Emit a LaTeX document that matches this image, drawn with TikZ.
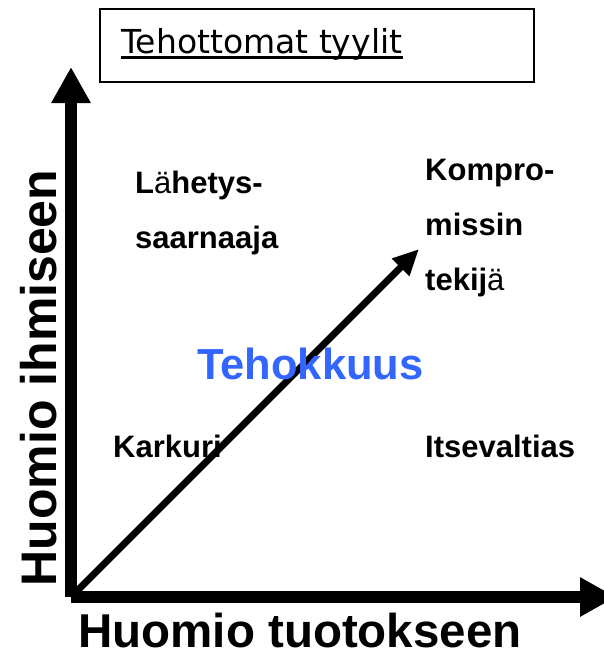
\documentclass[tikz,border=0pt]{standalone}
\usepackage{fontspec}
\setmainfont{Liberation Sans}
\newfontfamily\titlefont{DejaVu Sans}
\usetikzlibrary{arrows.meta}
\definecolor{effblue}{RGB}{51,102,255}
\begin{document}
\begin{tikzpicture}[x=1pt,y=-1pt,
  lbl/.style={anchor=base west,inner sep=0pt,font=\fontsize{31}{31}\selectfont\bfseries},
  axislbl/.style={inner sep=0pt,text depth=0pt,font=\fontsize{47.5}{47.5}\selectfont\bfseries},
  axisline/.style={line width=12pt,-{Triangle[length=36pt,width=37pt]}},
  diag/.style={line width=7pt,-{Triangle[length=26pt,width=23pt]}}]
\useasboundingbox[fill=white] (0,0) rectangle (604,653);
% title box
\node[draw,line width=1.2pt,minimum width=434pt,minimum height=73pt,inner sep=0pt] (box) at (317,45.5) {};
\node[anchor=base west,inner sep=0pt,font=\fontsize{33}{33}\selectfont\titlefont] (title) at (121,53) {Tehottomat tyylit};
\draw[line width=3pt] ([yshift=-4.5pt]title.base west) -- ([yshift=-4.5pt]title.base east);
% axes
\coordinate (origin) at (71,597);
\coordinate (ytip) at (71,67);
\coordinate (xtip) at (616,597);
\draw[axisline] (origin) -- (ytip);
\draw[axisline] (origin) -- (xtip);
% diagonal
\coordinate (dtip) at (419,249);
\draw[diag] (origin) -- (dtip);
% labels
\node[lbl] (l1) at (135,193) {L{\mdseries ä}hetys-};
\node[lbl] (l2) at (135,248) {saarnaaja};
\node[lbl] (k1) at (425,180) {Kompro-};
\node[lbl] (k2) at (425,235) {missin};
\node[lbl] (k3) at (425,290) {tekij{\mdseries ä}};
\node[lbl,text=effblue,font=\fontsize{43.5}{43.5}\selectfont\bfseries] (eff) at (197,379) {Tehokkuus};
\node[lbl] (kark) at (113,457) {Karkuri};
\node[lbl] (itse) at (425,457) {Itsevaltias};
\node[axislbl,anchor=base] (xl) at (300,647) {Huomio tuotokseen};
\node[axislbl,anchor=base,rotate=90,font=\fontsize{50}{50}\selectfont\bfseries] (yl) at (56,378) {Huomio ihmiseen};
\end{tikzpicture}
\end{document}
